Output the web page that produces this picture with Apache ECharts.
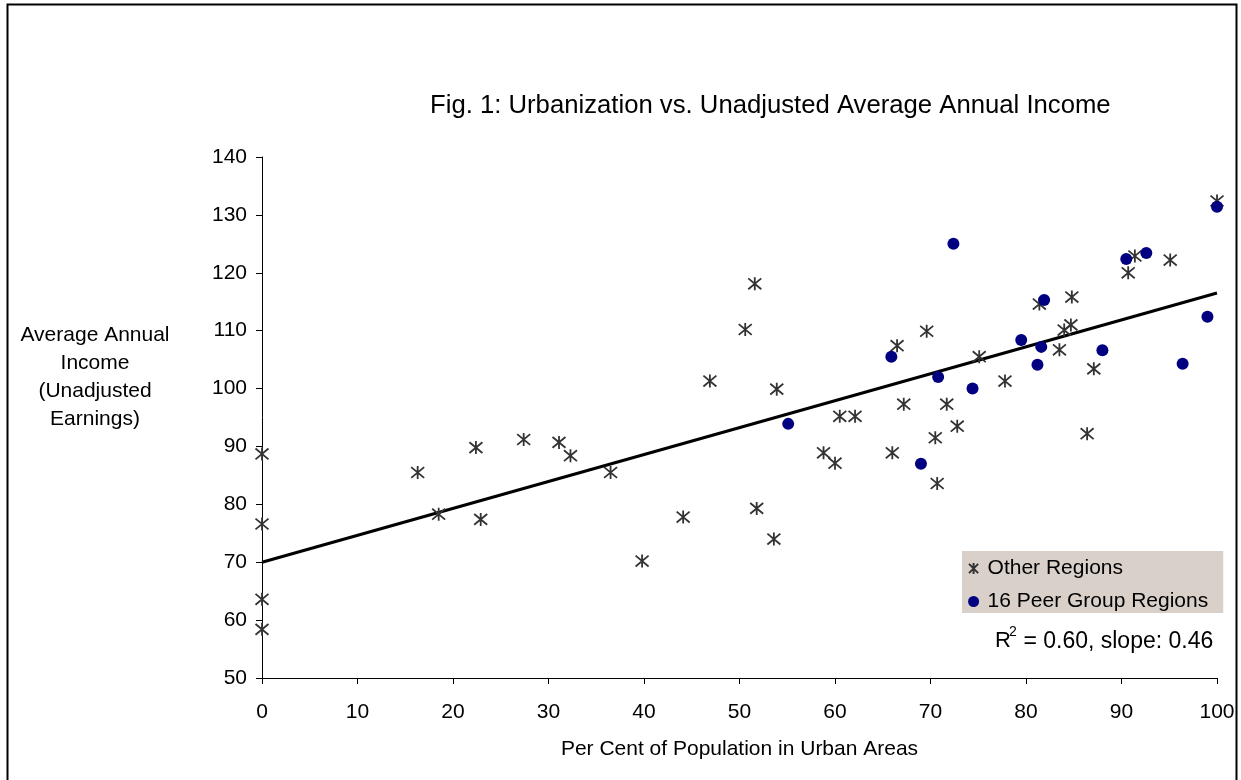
<!DOCTYPE html>
<html>
<head>
<meta charset="utf-8">
<script src="https://cdn.jsdelivr.net/npm/echarts@6/dist/echarts.min.js"></script>
<style>html,body{margin:0;padding:0;background:#fff}#c{width:1241px;height:780px}</style>
</head>
<body>
<div id="c"></div>
<script>
// Other Regions: [urban %, average annual income]
var otherRegions = [
  [0,88.7],[0,76.6],[0,63.6],[0,58.4],
  [16.3,85.5],[18.5,78.3],[22.4,89.8],[22.9,77.4],[27.4,91.2],[31.1,90.7],[32.3,88.4],[36.5,85.5],
  [39.8,70.2],[44.1,77.8],[46.9,101.3],[50.6,110.2],[51.6,118.1],[51.8,79.3],[53.6,74.0],[53.9,99.9],
  [58.8,88.9],[60.0,87.1],[60.5,95.2],[62.1,95.2],[66.0,88.9],[66.5,107.4],[67.2,97.3],[69.6,109.9],
  [70.5,91.5],[70.7,83.6],[71.7,97.3],[72.8,93.5],[75.1,105.5],[77.8,101.3],[81.4,114.6],[83.5,106.7],
  [84.0,110.1],[84.7,111.0],[84.8,115.8],[87.1,103.4],[86.4,92.2],[90.7,120.0],[91.4,122.9],[95.1,122.2],
  [100,132.4]
];
// 16 Peer Group Regions
var peerRegions = [
  [55.1,93.9],[65.9,105.5],[69.0,87.0],[70.8,102.0],[72.4,125.0],[74.4,100.0],[79.5,108.4],[81.2,104.1],
  [81.6,107.2],[81.9,115.3],[88.0,106.6],[90.5,122.4],[92.6,123.4],[96.4,104.3],[99.0,112.4],[100,131.4]
];
// Trend line endpoints
var trendLine = [[0,70.0],[100,116.5]];
var xTicks = {min:0, max:100, interval:10};
var yTicks = {min:50, max:140, interval:10};

var FONT = '"Liberation Sans", Arial, sans-serif';
var FS = 21;
var chart = echarts.init(document.getElementById('c'), null, {renderer:'canvas'});
var starPath = 'path://M0,0L10,10M10,0L0,10M5,-1L5,11';
chart.setOption({
  animation:false,
  backgroundColor:'#fff',
  textStyle:{fontFamily:FONT},
  title:{
    text:'Fig. 1: Urbanization vs. Unadjusted Average Annual Income',
    left:425, top:88,
    textStyle:{fontFamily:FONT, fontSize:25.7, fontWeight:'normal', color:'#000'}
  },
  grid:{left:262, right:24, top:157, bottom:102},
  xAxis:{
    type:'value', min:xTicks.min, max:xTicks.max, interval:xTicks.interval,
    name:'Per Cent of Population in Urban Areas', nameLocation:'middle', nameGap:61,
    nameTextStyle:{fontFamily:FONT, fontSize:FS, color:'#000'},
    axisLine:{show:true, lineStyle:{color:'#000', width:1}},
    axisTick:{show:true, length:6, lineStyle:{color:'#000'}},
    axisLabel:{fontFamily:FONT, fontSize:FS, color:'#000', margin:24},
    splitLine:{show:false}
  },
  yAxis:{
    type:'value', min:yTicks.min, max:yTicks.max, interval:yTicks.interval,
    axisLine:{show:true, lineStyle:{color:'#000', width:1}},
    axisTick:{show:true, length:6, lineStyle:{color:'#000'}},
    axisLabel:{fontFamily:FONT, fontSize:FS, color:'#000', margin:15},
    splitLine:{show:false}
  },
  legend:{
    orient:'vertical', left:962, top:551,
    padding:[7,15,1,6], itemGap:12, itemWidth:18, itemHeight:11,
    backgroundColor:'#d9d0c9',
    textStyle:{fontFamily:FONT, fontSize:FS, color:'#000', padding:[0,0,0,0]},
    data:['Other Regions','16 Peer Group Regions']
  },
  graphic:[
    {type:'rect', left:5, top:2, shape:{width:1229, height:790}, style:{fill:'none', stroke:'#000', lineWidth:2}, silent:true},
    {type:'text', x:95, y:321, style:{
      text:'Average Annual\nIncome\n(Unadjusted\nEarnings)', textAlign:'center', align:'center',
      font:FS+'px '+FONT, fill:'#000', lineHeight:28
    }},
    {type:'text', x:995, y:630, style:{text:'R', font:'22px '+FONT, fill:'#000'}},
    {type:'text', x:1009, y:625, style:{text:'2', font:'14px '+FONT, fill:'#000'}},
    {type:'text', x:1017, y:630, style:{text:' = 0.60, slope: 0.46', font:'23px '+FONT, fill:'#000'}}
  ],
  series:[
    {
      name:'Trend', type:'line', data:trendLine, symbol:'none',
      lineStyle:{color:'#000', width:3}, z:1, silent:true
    },
    {
      name:'Other Regions', type:'scatter', data:otherRegions,
      symbol:starPath, symbolSize:13,
      itemStyle:{color:'rgba(0,0,0,0)', borderColor:'#333', borderWidth:1.8, opacity:1},
      z:3
    },
    {
      name:'16 Peer Group Regions', type:'scatter', data:peerRegions,
      symbol:'circle', symbolSize:12,
      itemStyle:{color:'#000080', opacity:1},
      z:4
    }
  ]
});
</script>
</body>
</html>
